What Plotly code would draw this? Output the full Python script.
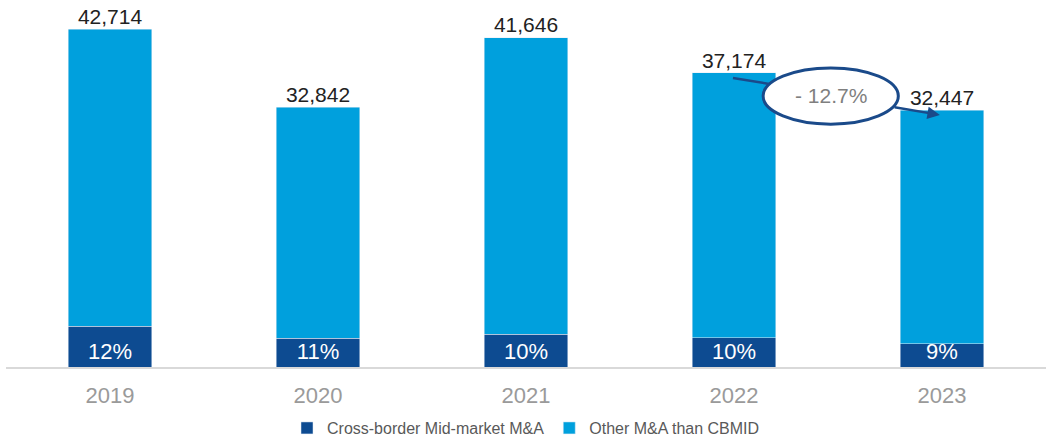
import plotly.graph_objs as go

years = ["2019", "2020", "2021", "2022", "2023"]
totals = [42714, 32842, 41646, 37174, 32447]
cbmid_share = [12, 11, 10, 10, 9]  # % of total

cbmid = [t * s / 100 for t, s in zip(totals, cbmid_share)]
other = [t - c for t, c in zip(totals, cbmid)]
change = (totals[4] / totals[3] - 1) * 100

dark_blue = "#0d4b91"
light_blue = "#00a0dd"
font_fam = "Liberation Sans"

fig = go.Figure()

fig.add_trace(go.Bar(
    x=years, y=cbmid, name="Cross-border Mid-market M&A",
    marker_color=dark_blue,
    text=[f"{s}%" for s in cbmid_share],
    textposition="inside", insidetextanchor="start", constraintext="none",
    textfont=dict(color="white", size=22, family=font_fam),
    hoverinfo="skip",
))
fig.add_trace(go.Bar(
    x=years, y=other, name="Other M&A than CBMID",
    marker_color=light_blue, hoverinfo="skip",
))
# totals above the bars
fig.add_trace(go.Scatter(
    x=years, y=totals, mode="text",
    text=[f"{t:,}" for t in totals], textposition="top center",
    textfont=dict(color="#222222", size=21, family=font_fam),
    showlegend=False, hoverinfo="skip",
))

# change bubble between 2022 and 2023
ring = "#1a4a8a"
fig.add_shape(type="circle", xref="x", yref="y",
              x0=3.14, x1=3.79, y0=30700, y1=37800,
              line=dict(color=ring, width=3), fillcolor="white")
fig.add_shape(type="line", xref="x", yref="y",
              x0=2.995, y0=totals[3] - 650, x1=3.17, y1=35780,
              line=dict(color=ring, width=2.5))
fig.add_annotation(x=3.99, y=totals[4] - 580, ax=3.765, ay=32870,
                   xref="x", yref="y", axref="x", ayref="y",
                   text="", showarrow=True, arrowhead=2, arrowsize=1,
                   arrowwidth=2.5, arrowcolor=ring)
fig.add_annotation(x=3.465, y=34260, xref="x", yref="y",
                   text=f"- {abs(change):.1f}%", showarrow=False,
                   font=dict(size=21, color="#7f7f7f", family=font_fam))

fig.update_layout(
    barmode="stack", bargap=0.6,
    width=1049, height=438,
    margin=dict(l=6, r=3, t=10, b=71, autoexpand=False),
    paper_bgcolor="white", plot_bgcolor="white",
    font=dict(family=font_fam),
    legend=dict(orientation="h", x=0.5, xanchor="center", y=-0.171, yanchor="middle",
                font=dict(size=16, color="#595959"), itemwidth=30,
                traceorder="normal"),
)
fig.update_xaxes(type="category", showline=True, linecolor="#d9d9d9", linewidth=2,
                 ticks="", ticklabelstandoff=8,
                 tickfont=dict(size=22, color="#9a9a9a"), showgrid=False)
fig.update_yaxes(visible=False, range=[0, 45130])

# page body has a default 8px margin; drop it so the figure sits at 0,0
fig.write_html("out.html", config={"displayModeBar": False},
               post_script="document.body.style.margin='0';")
